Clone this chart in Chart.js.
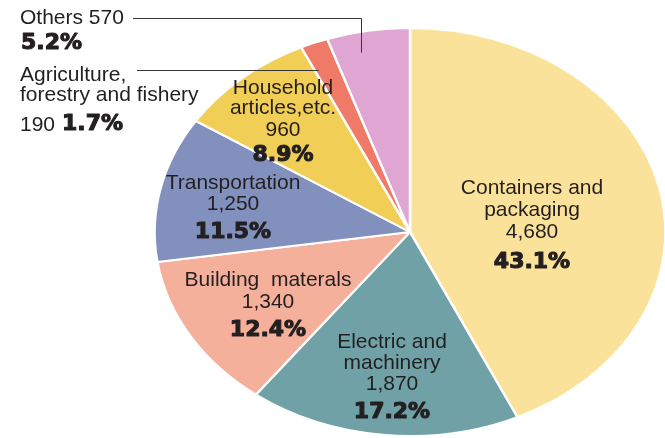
<!DOCTYPE html>
<html>
<head>
<meta charset="utf-8">
<script src="https://cdn.jsdelivr.net/npm/chart.js@4"></script>
<style>
  html,body{margin:0;padding:0;background:#fff;overflow:hidden;}
  canvas{display:block;}
</style>
</head>
<body>
<canvas id="c" width="665" height="438"></canvas>
<script>
// ---- data ----
const categories = ["Containers and packaging","Electric and machinery","Building  materals","Transportation","Household articles,etc.","Agriculture, forestry and fishery","Others"];
const values = [4680, 1870, 1340, 1250, 960, 190, 570];
const valueLabels = ["4,680","1,870","1,340","1,250","960","190","570"];
const percents = ["43.1%","17.2%","12.4%","11.5%","8.9%","1.7%","5.2%"];

// ---- styles / layout ----
const colors = ["#FBE29A","#6FA1A6","#F5B09C","#8290BE","#F1CE55","#F07A68","#DFA6D3"];
const STRETCH_X = 1.252;               // horizontal ellipse stretch of the pie
const FONT = '21px "Liberation Sans", Arial, sans-serif';
const BOLD = 'bold 22px "DejaVu Sans", sans-serif';
const TXT = '#231f20';

// text blocks inside slices
const insideLabels = [
  {x:532, lines:[["Containers and",188],["packaging",210],[valueLabels[0],232],[percents[0],262,true]]},
  {x:392, lines:[["Electric and",342],["machinery",363],[valueLabels[1],384],[percents[1],412,true]]},
  {x:268, lines:[["Building  materals",280],[valueLabels[2],302],[percents[2],330,true]]},
  {x:233, lines:[["Transportation",183],[valueLabels[3],204],[percents[3],232,true]]},
  {x:283, lines:[["Household",88],["articles,etc.",108],[valueLabels[4],130],[percents[4],155,true]]}
];

const stretchPlugin = {
  id:'stretch',
  beforeDatasetsDraw(chart){
    const a = chart.getDatasetMeta(0).data[0];
    const ctx = chart.ctx;
    ctx.save();
    ctx.translate(a.x, a.y);
    ctx.scale(STRETCH_X, 1);
    ctx.translate(-a.x, -a.y);
  },
  afterDatasetsDraw(chart){ chart.ctx.restore(); }
};

function arcPoint(arc, angleFrac, radFrac){
  const ang = arc.startAngle + (arc.endAngle - arc.startAngle) * angleFrac;
  const r = arc.outerRadius * radFrac;
  return {x: arc.x + Math.cos(ang) * r * STRETCH_X, y: arc.y + Math.sin(ang) * r};
}

function txt(ctx, t, x, y, bold){
  ctx.font = bold ? BOLD : FONT;
  if (bold){
    ctx.lineWidth = 1.1;
    ctx.strokeStyle = TXT;
    ctx.lineJoin = 'round';
    ctx.strokeText(t, x, y);
  }
  ctx.fillText(t, x, y);
}

const labelPlugin = {
  id:'labels',
  afterDraw(chart){
    const ctx = chart.ctx;
    const arcs = chart.getDatasetMeta(0).data;
    ctx.save();
    ctx.fillStyle = TXT;
    ctx.textBaseline = 'middle';
    ctx.textAlign = 'center';
    insideLabels.forEach(b=>{
      b.lines.forEach(([t,y,bold])=> txt(ctx, t, b.x, y, bold));
    });
    // outside labels
    ctx.textAlign = 'left';
    txt(ctx, "Others " + valueLabels[6], 20, 18);
    txt(ctx, percents[6], 21, 43, true);
    txt(ctx, "Agriculture,", 20, 75);
    txt(ctx, "forestry and fishery", 20, 95);
    txt(ctx, valueLabels[5], 20, 125);
    txt(ctx, percents[5], 62, 124, true);

    // leader lines
    ctx.strokeStyle = '#3a3436';
    ctx.lineWidth = 1;
    const pO = arcPoint(arcs[6], 0.35, 0.9);
    ctx.beginPath();
    ctx.moveTo(133, 18.5);
    ctx.lineTo(Math.round(pO.x)+0.5, 18.5);
    ctx.lineTo(Math.round(pO.x)+0.5, pO.y);
    ctx.stroke();
    const pA = arcPoint(arcs[5], 0.15, 0.87);
    ctx.beginPath();
    ctx.moveTo(137, Math.round(pA.y)+0.5);
    ctx.lineTo(pA.x, Math.round(pA.y)+0.5);
    ctx.stroke();
    ctx.restore();
  }
};

new Chart(document.getElementById('c'), {
  type:'pie',
  data:{
    labels: categories,
    datasets:[{
      data: values,
      backgroundColor: colors,
      borderColor: '#ffffff',
      borderWidth: 2
    }]
  },
  options:{
    responsive:false,
    animation:false,
    devicePixelRatio:1,
    layout:{padding:{left:205, right:50, top:26, bottom:0}},
    plugins:{legend:{display:false}, tooltip:{enabled:false}}
  },
  plugins:[stretchPlugin, labelPlugin]
});
</script>
</body>
</html>
